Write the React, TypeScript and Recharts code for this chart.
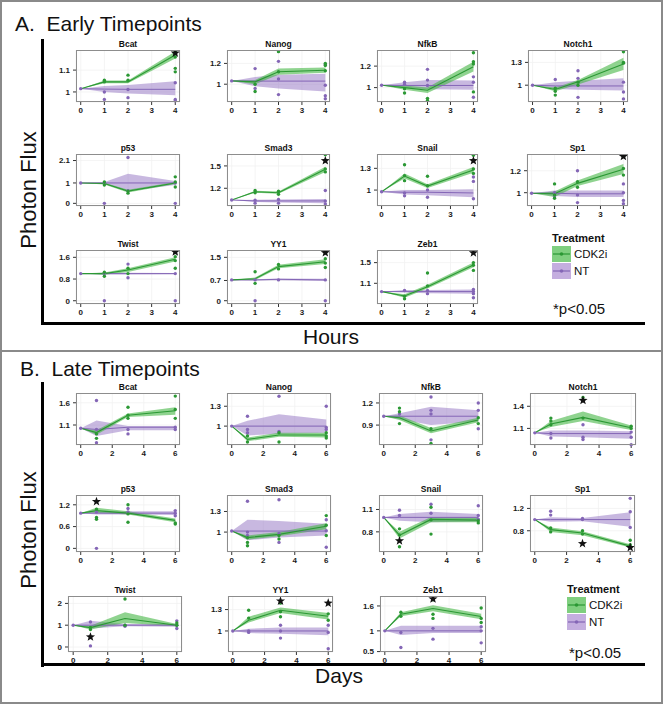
import React from 'react';
import { ComposedChart, Area, Line, Scatter, XAxis, YAxis, CartesianGrid } from 'recharts';

const FONT = '"Liberation Sans", Arial, Helvetica, sans-serif';

const GENES = ['Bcat', 'Nanog', 'NfkB', 'Notch1', 'p53', 'Smad3', 'Snail', 'Sp1', 'Twist', 'YY1', 'Zeb1'];
const TREATMENTS = ['CDK2i', 'NT'];

// ---------- Early timepoints (hours) ----------
const EARLY_TIMES = [0, 1, 2, 4];
const EARLY_X_TICKS = [0, 1, 2, 3, 4];
const EARLY_Y_TICKS = [[1, 1.1], [1, 1.2], [1, 1.2], [1, 1.3], [0, 1, 2.1], [1.2, 1.5], [1, 1.3], [1, 1.2], [0, 0.8, 1.6], [0, 0.7, 1.5], [1.1, 1.5]];
const EARLY_Y_RANGE = [[0.954, 1.192], [0.829, 1.329], [0.866, 1.35], [0.779, 1.463], [-0.13, 2.42], [0.962, 1.66], [0.78, 1.498], [0.879, 1.352], [-0.12, 1.87], [-0.114, 1.754], [0.70, 1.744]];
const EARLY_CDK_MEAN = [[1.015, 1.046, 1.046, 1.169], [1.032, 1.023, 1.12, 1.135], [1.022, 1.0, 0.975, 1.194], [1.0, 0.943, 1.044, 1.278], [1.0, 0.97, 0.6, 1.0], [1.043, 1.154, 1.14, 1.456], [0.977, 1.194, 1.055, 1.277], [0.995, 0.99, 1.085, 1.213], [1.0, 1.0, 1.13, 1.53], [0.72, 0.76, 1.18, 1.35], [0.94, 0.855, 1.035, 1.454]];
const EARLY_CDK_LO = [[1.015, 1.04, 1.04, 1.153], [1.032, 1.0, 1.09, 1.11], [1.022, 0.98, 0.95, 1.15], [1.0, 0.92, 1.01, 1.2], [1.0, 0.93, 0.53, 0.95], [1.043, 1.14, 1.125, 1.42], [0.977, 1.16, 1.03, 1.24], [0.995, 0.96, 1.06, 1.17], [1.0, 0.96, 1.06, 1.45], [0.72, 0.72, 1.12, 1.27], [0.94, 0.82, 1.0, 1.41]];
const EARLY_CDK_HI = [[1.015, 1.052, 1.052, 1.185], [1.032, 1.04, 1.15, 1.16], [1.022, 1.02, 1.0, 1.24], [1.0, 0.97, 1.07, 1.36], [1.0, 1.01, 0.67, 1.05], [1.043, 1.168, 1.155, 1.49], [0.977, 1.23, 1.08, 1.32], [0.995, 1.01, 1.11, 1.26], [1.0, 1.04, 1.2, 1.6], [0.72, 0.8, 1.24, 1.43], [0.94, 0.89, 1.07, 1.5]];
const EARLY_NT_MEAN = [[1.015, 1.013, 1.012, 1.012], [1.032, 1.03, 1.03, 1.03], [1.022, 1.02, 1.02, 1.02], [1.0, 0.99, 0.99, 0.99], [1.0, 1.0, 1.0, 1.0], [1.043, 1.03, 1.03, 1.03], [0.977, 0.97, 0.97, 0.96], [0.995, 0.995, 0.99, 0.99], [1.0, 1.0, 1.0, 1.0], [0.72, 0.72, 0.74, 0.72], [0.94, 0.94, 0.94, 0.94]];
const EARLY_NT_LO = [[1.015, 1.0, 0.993, 0.985], [1.032, 0.98, 0.96, 0.93], [1.022, 1.0, 0.985, 0.98], [1.0, 0.95, 0.94, 0.93], [1.0, 0.95, 0.6, 0.9], [1.043, 1.015, 1.01, 1.0], [0.977, 0.94, 0.93, 0.9], [0.995, 0.97, 0.96, 0.96], [1.0, 0.97, 0.97, 0.98], [0.72, 0.7, 0.71, 0.68], [0.94, 0.92, 0.91, 0.9]];
const EARLY_NT_HI = [[1.015, 1.027, 1.032, 1.049], [1.032, 1.07, 1.09, 1.1], [1.022, 1.05, 1.07, 1.065], [1.0, 1.04, 1.06, 1.09], [1.0, 1.05, 1.45, 1.1], [1.043, 1.045, 1.05, 1.055], [0.977, 1.0, 1.0, 1.01], [0.995, 1.02, 1.02, 1.02], [1.0, 1.03, 1.03, 1.02], [0.72, 0.74, 0.77, 0.76], [0.94, 0.97, 0.97, 0.98]];
const EARLY_CDK_PTS = [
  [[1, 1.054], [1, 1.046], [2, 1.077], [2, 1.054], [4, 1.185], [4, 1.108], [4, 1.092], [4, 1.16]],
  [[1, 0.93], [1, 1.0], [2, 1.313], [2, 1.12], [4, 1.18], [4, 1.2], [4, 1.13]],
  [[1, 0.95], [1, 0.99], [2, 0.9], [2, 0.88], [4, 1.325], [4, 1.24], [4, 1.22], [4, 0.96]],
  [[1, 0.87], [1, 0.92], [1, 0.96], [2, 1.0], [2, 1.04], [4, 1.44], [4, 1.29], [4, 1.3]],
  [[1, 1.05], [1, 0.9], [2, 0.6], [2, 0.5], [4, 1.3], [4, 1.05], [4, 0.8]],
  [[1, 1.17], [1, 1.14], [2, 1.16], [2, 1.12], [4, 1.65], [4, 1.42], [4, 1.46]],
  [[1, 1.35], [1, 1.2], [1, 1.13], [2, 1.19], [2, 1.06], [4, 1.48], [4, 1.29], [4, 1.23]],
  [[1, 1.08], [1, 0.98], [1, 0.95], [2, 1.1], [2, 1.05], [4, 1.33], [4, 1.16], [4, 1.22]],
  [[1, 1.05], [1, 0.9], [2, 1.0], [2, 1.2], [4, 1.62], [4, 1.48], [4, 1.2]],
  [[1, 1.0], [1, 0.6], [2, 1.25], [2, 1.1], [4, 1.45], [4, 1.3], [4, 1.15]],
  [[1, 0.8], [1, 0.85], [2, 1.3], [2, 1.05], [4, 1.5], [4, 1.35], [4, 1.45]],
];
const EARLY_NT_PTS = [
  [[0, 1.015], [1, 1.0], [1, 0.966], [2, 1.011], [2, 0.974], [4, 1.042], [4, 0.966], [4, 0.96]],
  [[0, 1.032], [1, 1.15], [1, 0.96], [2, 1.22], [2, 1.05], [2, 0.9], [4, 1.19], [4, 0.99], [4, 0.89], [4, 0.86]],
  [[0, 1.022], [1, 1.05], [1, 1.03], [2, 1.17], [2, 1.07], [2, 1.02], [4, 1.1], [4, 1.05], [4, 0.91]],
  [[0, 1.0], [1, 1.075], [2, 1.19], [2, 1.09], [2, 0.84], [4, 1.04], [4, 0.91], [4, 0.82]],
  [[0, 1.0], [1, 0.0], [1, 1.0], [2, 2.25], [2, 0.62], [4, 0.0], [4, 1.0]],
  [[0, 1.043], [1, 1.04], [1, 1.0], [2, 1.05], [2, 1.0], [4, 1.17], [4, 1.03], [4, 0.99]],
  [[0, 0.977], [1, 0.96], [1, 0.92], [2, 1.0], [2, 0.9], [4, 1.18], [4, 1.12], [4, 0.88]],
  [[0, 0.995], [1, 1.0], [1, 0.96], [2, 1.2], [2, 0.98], [2, 0.91], [4, 1.08], [4, 1.0], [4, 0.93], [4, 0.9]],
  [[0, 1.0], [1, 0.0], [1, 1.0], [2, 1.35], [2, 0.85], [4, 1.0], [4, 0.0]],
  [[0, 0.72], [1, 0.72], [1, 0.0], [2, 0.72], [4, 0.72], [4, 0.0]],
  [[0, 0.94], [1, 0.96], [2, 0.96], [2, 0.9], [4, 0.98], [4, 0.94], [4, 0.9], [4, 0.82]],
];
const EARLY_STARS = [[[4, 1.178]], [], [], [], [], [[4, 1.57]], [[4, 1.405]], [[4, 1.33]], [[4, 1.8]], [[4, 1.66]], [[4, 1.69]]];

// ---------- Late timepoints (days) ----------
const LATE_TIMES = [0, 1, 3, 6];
const LATE_X_TICKS = [0, 2, 4, 6];
const LATE_Y_TICKS = [[1.1, 1.6], [1, 1.3], [0.9, 1.2], [1.1, 1.4], [0, 0.6, 1.2], [1, 1.3], [0.8, 1.1], [0.8, 1.2], [0, 1, 2], [1, 1.3], [0.5, 1, 1.6]];
const LATE_Y_RANGE = [[0.65, 1.82], [0.715, 1.5], [0.63, 1.335], [0.875, 1.58], [-0.1, 1.47], [0.71, 1.54], [0.53, 1.294], [0.42, 1.44], [-0.23, 2.34], [0.705, 1.49], [0.49, 1.84]];
const LATE_CDK_MEAN = [[1.026, 0.93, 1.32, 1.42], [1.0, 0.8, 0.865, 0.865], [1.02, 1.0, 0.82, 0.97], [1.04, 1.16, 1.25, 1.11], [0.97, 1.04, 0.97, 0.77], [1.015, 0.92, 0.967, 1.085], [0.994, 0.755, 0.967, 0.957], [1.0, 0.82, 0.76, 0.525], [1.0, 0.89, 1.31, 1.0], [1.0, 1.15, 1.29, 1.207], [1.0, 1.4, 1.54, 1.345]];
const LATE_CDK_LO = [[1.026, 0.88, 1.28, 1.33], [1.0, 0.77, 0.84, 0.83], [1.02, 0.97, 0.79, 0.94], [1.04, 1.12, 1.2, 1.08], [0.97, 0.98, 0.93, 0.72], [1.015, 0.89, 0.94, 1.04], [0.994, 0.71, 0.93, 0.93], [1.0, 0.78, 0.72, 0.5], [1.0, 0.8, 1.1, 0.95], [1.0, 1.12, 1.25, 1.16], [1.0, 1.35, 1.47, 1.28]];
const LATE_CDK_HI = [[1.026, 0.98, 1.36, 1.5], [1.0, 0.83, 0.9, 0.9], [1.02, 1.03, 0.86, 1.0], [1.04, 1.2, 1.33, 1.14], [0.97, 1.12, 1.02, 0.82], [1.015, 0.95, 1.0, 1.13], [0.994, 0.8, 1.0, 0.99], [1.0, 0.86, 0.79, 0.56], [1.0, 0.98, 1.6, 1.05], [1.0, 1.2, 1.33, 1.25], [1.0, 1.45, 1.62, 1.41]];
const LATE_NT_MEAN = [[1.026, 1.0, 1.05, 1.05], [1.0, 1.0, 1.0, 1.0], [1.02, 1.02, 1.02, 1.02], [1.04, 1.03, 1.03, 1.03], [0.97, 0.97, 0.97, 0.97], [1.015, 1.015, 1.015, 1.015], [0.994, 0.994, 0.994, 0.994], [1.0, 1.0, 1.0, 1.0], [1.0, 1.0, 1.0, 1.0], [1.0, 1.0, 1.0, 1.0], [1.0, 1.0, 1.0, 1.0]];
const LATE_NT_LO = [[1.026, 0.85, 0.98, 0.98], [1.0, 0.86, 0.88, 0.9], [1.02, 0.98, 0.9, 0.95], [1.04, 0.99, 0.98, 0.96], [0.97, 0.93, 0.93, 0.92], [1.015, 0.88, 0.92, 0.95], [0.994, 0.95, 0.93, 0.94], [1.0, 0.96, 0.97, 0.87], [1.0, 0.85, 0.95, 0.93], [1.0, 0.97, 0.96, 0.94], [1.0, 0.9, 0.95, 0.95]];
const LATE_NT_HI = [[1.026, 1.2, 1.08, 1.08], [1.0, 1.08, 1.18, 1.1], [1.02, 1.06, 1.15, 1.1], [1.04, 1.07, 1.07, 1.06], [0.97, 1.0, 1.02, 1.02], [1.015, 1.18, 1.16, 1.12], [0.994, 1.04, 1.07, 1.04], [1.0, 1.04, 1.03, 1.13], [1.0, 1.2, 1.05, 1.07], [1.0, 1.03, 1.05, 1.05], [1.0, 1.12, 1.12, 1.12]];
const LATE_CDK_PTS = [
  [[1, 0.8], [1, 0.9], [3, 1.5], [3, 1.32], [3, 1.25], [6, 1.75], [6, 1.45], [6, 1.25]],
  [[1, 0.76], [1, 0.85], [3, 0.76], [3, 0.9], [6, 0.9], [6, 0.85], [6, 0.82]],
  [[1, 1.13], [1, 1.08], [1, 0.92], [3, 0.85], [3, 0.65], [6, 1.0], [6, 0.92]],
  [[1, 1.24], [1, 1.2], [1, 1.15], [3, 1.52], [3, 1.24], [6, 1.13], [6, 1.1]],
  [[1, 1.08], [1, 0.85], [1, 0.8], [3, 1.2], [3, 0.95], [3, 0.72], [6, 0.7], [6, 0.67]],
  [[1, 0.92], [1, 0.85], [1, 0.8], [3, 0.95], [3, 0.9], [6, 1.24], [6, 1.1], [6, 0.95]],
  [[1, 0.84], [1, 0.6], [1, 0.76], [3, 1.13], [3, 0.96], [3, 0.77], [6, 0.95], [6, 0.92]],
  [[1, 0.85], [1, 0.78], [3, 0.8], [3, 0.74], [6, 0.63], [6, 0.55], [6, 0.52]],
  [[1, 0.9], [1, 0.8], [3, 2.2], [3, 1.0], [6, 1.0], [6, 1.1]],
  [[1, 1.29], [1, 1.18], [3, 1.39], [3, 1.27], [3, 1.2], [6, 1.24], [6, 1.15]],
  [[1, 1.45], [1, 1.35], [3, 1.75], [3, 1.4], [3, 1.3], [6, 1.55], [6, 1.3], [6, 1.2]],
];
const LATE_NT_PTS = [
  [[0, 1.026], [1, 1.65], [1, 1.0], [1, 0.7], [3, 1.0], [3, 0.9], [6, 1.05], [6, 1.0]],
  [[0, 1.0], [1, 1.15], [1, 0.95], [1, 0.9], [3, 1.45], [3, 0.92], [6, 1.3], [6, 0.98], [6, 0.95]],
  [[0, 1.02], [1, 1.05], [3, 1.28], [3, 1.1], [3, 1.05], [3, 0.7], [6, 1.2], [6, 1.1], [6, 0.85]],
  [[0, 1.04], [1, 1.03], [1, 0.97], [3, 1.15], [3, 0.98], [3, 0.95], [6, 1.05], [6, 0.98], [6, 0.88]],
  [[0, 0.97], [1, 0.0], [1, 1.0], [3, 1.1], [3, 1.0], [6, 1.04], [6, 0.97], [6, 0.9]],
  [[0, 1.015], [1, 1.45], [1, 1.0], [1, 0.95], [3, 1.47], [3, 0.98], [3, 0.85], [6, 1.18], [6, 1.02], [6, 0.78]],
  [[0, 0.994], [1, 1.09], [1, 1.02], [3, 1.17], [3, 1.05], [6, 1.15], [6, 1.02], [6, 0.97]],
  [[0, 1.0], [1, 1.15], [1, 1.08], [3, 1.0], [3, 1.02], [6, 1.38], [6, 1.14], [6, 0.86]],
  [[0, 1.0], [1, 1.15], [1, 0.05], [3, 0.95], [3, 1.0], [6, 0.85], [6, 1.2], [6, 1.0]],
  [[0, 1.0], [1, 1.0], [1, 0.98], [3, 1.08], [3, 1.0], [3, 0.9], [6, 1.08], [6, 0.98], [6, 0.75]],
  [[0, 1.0], [1, 0.96], [1, 0.6], [3, 1.06], [3, 0.8], [6, 1.1], [6, 1.0], [6, 0.71]],
];
const LATE_STARS = [[], [], [], [[3, 1.48]], [[1, 1.29]], [], [[1, 0.68]], [[3, 0.57], [6, 0.5]], [[1, 0.46]], [[3, 1.42], [6, 1.39]], [[3, 1.77]]];

// ---------- layout (plot panel rectangles) ----------
const EARLY_BOXES = [[76, 50, 180, 102], [227, 50, 330, 102], [377, 50, 478, 102], [528, 50, 628, 102], [76, 154, 180, 206], [227, 154, 330, 206], [377, 154, 478, 206], [527, 154, 628, 206], [76, 250, 180, 304], [227, 250, 330, 304], [377, 250, 478, 304]];
const LATE_BOXES = [[76, 393, 180, 445], [227, 393, 331, 445], [379, 393, 483, 445], [530, 393, 636, 445], [76, 495, 180, 552], [227, 495, 331, 552], [379, 495, 483, 552], [530, 495, 635, 552], [68, 596, 182, 652], [228, 596, 333, 652], [380, 596, 486, 652]];

const G_RIB = '#45b545';
const G_LINE = '#2b9834';
const P_RIB = '#9b7dc6';
const P_LINE = '#8466b6';

const dotShape = (color: string) => (p: any) =>
  p.cx == null || p.cy == null || isNaN(p.cy) ? <g /> : <circle cx={p.cx} cy={p.cy} r={1.7} fill={color} />;

const starShape = (p: any) => {
  if (p.cx == null || p.cy == null || isNaN(p.cy)) return <g />;
  const pts: string[] = [];
  for (let i = 0; i < 10; i++) {
    const r = i % 2 === 0 ? 4.8 : 2.0;
    const a = -Math.PI / 2 + (i * Math.PI) / 5;
    pts.push(`${p.cx + r * Math.cos(a)},${p.cy + r * Math.sin(a)}`);
  }
  return <polygon points={pts.join(' ')} fill="#111" />;
};

const tickStyle = { fontSize: 8, fontWeight: 700, fill: '#1a1a1a', fontFamily: FONT };

function Subplot(props: any) {
  const { title, box, times, xDomain, xTicks, yDomain, yTicks, cm, cl, ch, nm, nl, nh, cp, np, st } = props;
  const [x0, y0, x1, y1] = box;
  const YW = 30;
  const XH = 18;
  const MR = 3;
  const rows = times.map((t: number, i: number) => ({
    t,
    cm: cm[i],
    cb: [cl[i], ch[i]],
    nm: nm[i],
    nb: [nl[i], nh[i]],
  }));
  const toPts = (a: number[][]) => a.map(([t, v]) => ({ t, v }));
  return (
    <>
      <div style={{ position: 'absolute', left: x0 - YW, top: y0 }}>
        <ComposedChart width={x1 - x0 + YW + MR} height={y1 - y0 + XH} data={rows} margin={{ top: 0, right: MR, bottom: 0, left: 0 }}>
          <CartesianGrid stroke="#f1f1f1" strokeWidth={0.8} />
          <XAxis type="number" dataKey="t" domain={xDomain} ticks={xTicks} interval={0} height={XH}
            tick={tickStyle} tickSize={3} tickMargin={2} tickLine={{ stroke: '#333' }} axisLine={false} />
          <YAxis type="number" domain={yDomain} ticks={yTicks} interval={0} width={YW}
            tick={tickStyle} tickSize={3} tickMargin={3} tickLine={{ stroke: '#333' }} axisLine={false} />
          <Area type="linear" dataKey="nb" stroke="none" fill={P_RIB} fillOpacity={0.55} dot={false} activeDot={false} isAnimationActive={false} />
          <Area type="linear" dataKey="cb" stroke="none" fill={G_RIB} fillOpacity={0.6} dot={false} activeDot={false} isAnimationActive={false} />
          <Line type="linear" dataKey="nm" stroke={P_LINE} strokeWidth={1} dot={false} activeDot={false} isAnimationActive={false} />
          <Line type="linear" dataKey="cm" stroke={G_LINE} strokeWidth={1.1} dot={false} activeDot={false} isAnimationActive={false} />
          <Scatter data={toPts(np)} dataKey="v" shape={dotShape(P_LINE)} isAnimationActive={false} />
          <Scatter data={toPts(cp)} dataKey="v" shape={dotShape(G_LINE)} isAnimationActive={false} />
          {st.length > 0 ? <Scatter data={toPts(st)} dataKey="v" shape={starShape} isAnimationActive={false} /> : null}
        </ComposedChart>
      </div>
      <div style={{ position: 'absolute', left: x0, top: y0, width: x1 - x0, height: y1 - y0, border: '1px solid #8d8d8d', boxSizing: 'border-box', pointerEvents: 'none' }} />
      <div style={{ position: 'absolute', left: x0 - 10, width: x1 - x0 + 20, top: y0 - 11, textAlign: 'center', fontSize: 8.5, fontWeight: 700, lineHeight: '10px', color: '#111', fontFamily: FONT }}>{title}</div>
    </>
  );
}

function Panel(props: any) {
  const { boxes, times, xDomain, xTicks, yTicks, yRange, cm, cl, ch, nm, nl, nh, cp, np, st } = props;
  return (
    <>
      {GENES.map((g, i) => (
        <Subplot key={g} title={g} box={boxes[i]} times={times} xDomain={xDomain} xTicks={xTicks}
          yDomain={yRange[i]} yTicks={yTicks[i]} cm={cm[i]} cl={cl[i]} ch={ch[i]} nm={nm[i]} nl={nl[i]} nh={nh[i]}
          cp={cp[i]} np={np[i]} st={st[i]} />
      ))}
    </>
  );
}

function LegendBlock({ left, top }: { left: number; top: number }) {
  const keys = [
    { label: TREATMENTS[0], fill: '#7fcf7f', line: G_LINE },
    { label: TREATMENTS[1], fill: '#c4aedf', line: P_LINE },
  ];
  return (
    <div style={{ position: 'absolute', left, top, fontFamily: FONT }}>
      <div style={{ fontSize: 11, fontWeight: 700, lineHeight: '11px', color: '#111' }}>Treatment</div>
      {keys.map((k, i) => (
        <div key={k.label} style={{ position: 'absolute', left: 0, top: 13 + i * 16.5, width: 80, height: 16 }}>
          <svg width={19} height={16} style={{ position: 'absolute', left: 0, top: 0 }}>
            <rect x={0} y={0} width={19} height={16} fill={k.fill} />
            <line x1={1} y1={8} x2={18} y2={8} stroke={k.line} strokeWidth={1.2} />
            <circle cx={9.5} cy={8} r={1.8} fill={k.line} />
          </svg>
          <div style={{ position: 'absolute', left: 22, top: 1, fontSize: 11.5, lineHeight: '14px', color: '#111' }}>{k.label}</div>
        </div>
      ))}
    </div>
  );
}

const bigText = (txt: string, style: any) => (
  <div style={{ position: 'absolute', fontFamily: FONT, color: '#111', whiteSpace: 'pre', ...style }}>{txt}</div>
);

export default function App() {
  return (
    <div style={{ position: 'absolute', left: 0, top: 0, width: 663, height: 704, background: '#fff', overflow: 'hidden', fontFamily: FONT }}>
      {/* frame */}
      <div style={{ position: 'absolute', left: 0, top: 0, width: 663, height: 704, border: '2px solid #8a8a8a', boxSizing: 'border-box' }} />
      <div style={{ position: 'absolute', left: 0, top: 350, width: 663, height: 2, background: '#8a8a8a' }} />

      {/* Panel A */}
      {bigText('A.  Early Timepoints', { left: 15, top: 13, fontSize: 21, lineHeight: '21px' })}
      <div style={{ position: 'absolute', left: 41, top: 39, width: 3, height: 286, background: '#000' }} />
      <div style={{ position: 'absolute', left: 41, top: 322, width: 604, height: 3, background: '#000' }} />
      {bigText('Photon Flux', { left: 28.5 - 70, top: 190 - 12, width: 140, height: 24, lineHeight: '24px', fontSize: 22, textAlign: 'center', transform: 'rotate(-90deg)' })}
      {bigText('Hours', { left: 331 - 40, width: 80, top: 326, fontSize: 21, lineHeight: '21px', textAlign: 'center' })}
      <Panel boxes={EARLY_BOXES} times={EARLY_TIMES} xDomain={[-0.2, 4.2]} xTicks={EARLY_X_TICKS}
        yTicks={EARLY_Y_TICKS} yRange={EARLY_Y_RANGE} cm={EARLY_CDK_MEAN} cl={EARLY_CDK_LO} ch={EARLY_CDK_HI}
        nm={EARLY_NT_MEAN} nl={EARLY_NT_LO} nh={EARLY_NT_HI} cp={EARLY_CDK_PTS} np={EARLY_NT_PTS} st={EARLY_STARS} />
      <LegendBlock left={552} top={233} />
      {bigText('*p<0.05', { left: 553, top: 301, fontSize: 15, lineHeight: '15px' })}

      {/* Panel B */}
      {bigText('B.  Late Timepoints', { left: 20, top: 358, fontSize: 21, lineHeight: '21px' })}
      <div style={{ position: 'absolute', left: 41, top: 382, width: 3, height: 285, background: '#000' }} />
      <div style={{ position: 'absolute', left: 41, top: 663, width: 604, height: 3, background: '#000' }} />
      {bigText('Photon Flux', { left: 28.5 - 70, top: 530 - 12, width: 140, height: 24, lineHeight: '24px', fontSize: 22, textAlign: 'center', transform: 'rotate(-90deg)' })}
      {bigText('Days', { left: 339 - 40, width: 80, top: 665, fontSize: 21, lineHeight: '21px', textAlign: 'center' })}
      <Panel boxes={LATE_BOXES} times={LATE_TIMES} xDomain={[-0.3, 6.3]} xTicks={LATE_X_TICKS}
        yTicks={LATE_Y_TICKS} yRange={LATE_Y_RANGE} cm={LATE_CDK_MEAN} cl={LATE_CDK_LO} ch={LATE_CDK_HI}
        nm={LATE_NT_MEAN} nl={LATE_NT_LO} nh={LATE_NT_HI} cp={LATE_CDK_PTS} np={LATE_NT_PTS} st={LATE_STARS} />
      <LegendBlock left={567} top={584} />
      {bigText('*p<0.05', { left: 569, top: 645, fontSize: 15, lineHeight: '15px' })}
    </div>
  );
}
